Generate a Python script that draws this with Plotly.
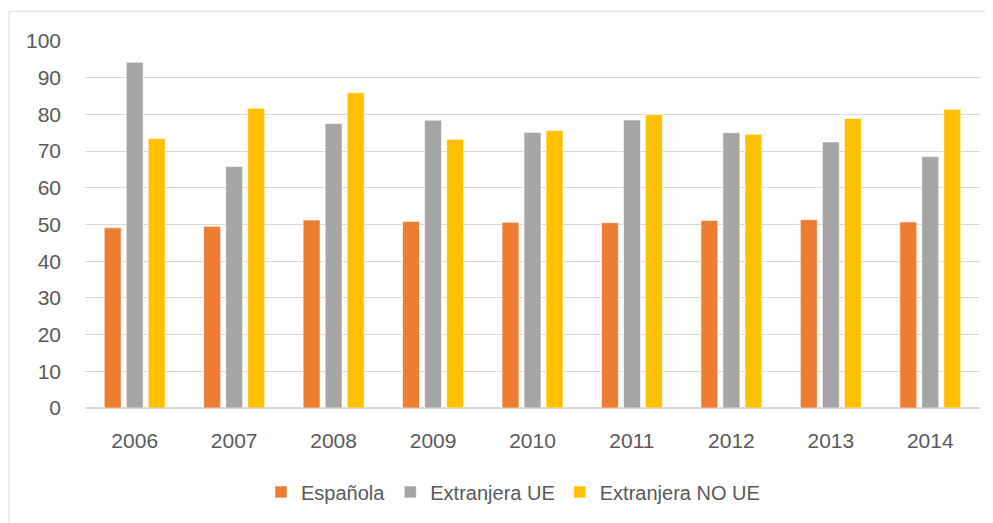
import plotly.graph_objects as go

years = ["2006", "2007", "2008", "2009", "2010", "2011", "2012", "2013", "2014"]
espanola = [49.1, 49.5, 51.2, 50.8, 50.6, 50.5, 51.1, 51.3, 50.7]
extranjera_ue = [94.2, 65.8, 77.5, 78.4, 75.1, 78.5, 75.0, 72.5, 68.5]
extranjera_no_ue = [73.4, 81.7, 85.9, 73.2, 75.6, 79.9, 74.6, 78.9, 81.4]
y_ticks = [0, 10, 20, 30, 40, 50, 60, 70, 80, 90, 100]

series = [
    ("Española", espanola, "#ED7D31"),
    ("Extranjera UE", extranjera_ue, "#A5A5A5"),
    ("Extranjera NO UE", extranjera_no_ue, "#FFC000"),
]

fig = go.Figure()
for name, vals, color in series:
    fig.add_trace(go.Bar(
        x=years, y=vals, name=name,
        marker=dict(color=color, line=dict(color="rgba(255,255,255,0.6)", width=1)),
    ))

# page body has an 8px margin; work in window pixel coordinates and offset
OFF = 8
W, H = 993 - OFF, 523 - OFF
left_px, right_px, top_px, bottom_px = 85, 980, 40.7, 408
ml, mt = left_px - OFF, top_px - OFF
mr = W - (right_px - OFF)
mb = H - (bottom_px - OFF)
pw, ph = W - ml - mr, H - mt - mb

def px_to_paper_x(px):
    return (px - left_px) / pw

def px_to_paper_y(py):
    return (bottom_px - py) / ph

fig.update_layout(
    width=W, height=H,
    margin=dict(l=ml, r=mr, t=mt, b=mb, pad=0),
    paper_bgcolor="white", plot_bgcolor="white",
    barmode="group", bargap=0.336, bargroupgap=0.23,
    font=dict(family="Liberation Sans, Arial, sans-serif", size=21, color="#595959"),
    showlegend=True,
    legend=dict(orientation="h", x=px_to_paper_x(513), xanchor="center",
                y=px_to_paper_y(492), yanchor="middle",
                font=dict(size=20, color="#595959"), itemwidth=30, traceorder="normal"),
    xaxis=dict(showgrid=False, showline=False, ticks="", ticklabelstandoff=18),
    yaxis=dict(range=[0, 100], tickvals=y_ticks, showgrid=True, gridcolor="#D9D9D9", gridwidth=1,
               zeroline=True, zerolinecolor="#D9D9D9", zerolinewidth=1.5,
               showline=False, ticks="", ticklabelstandoff=23),
    shapes=[dict(type="rect", xref="paper", yref="paper",
                 x0=px_to_paper_x(9), x1=px_to_paper_x(1010),
                 y0=px_to_paper_y(540), y1=px_to_paper_y(11),
                 line=dict(color="#D9D9D9", width=1), fillcolor="rgba(0,0,0,0)", layer="below")],
)

fig.write_html("out.html")
